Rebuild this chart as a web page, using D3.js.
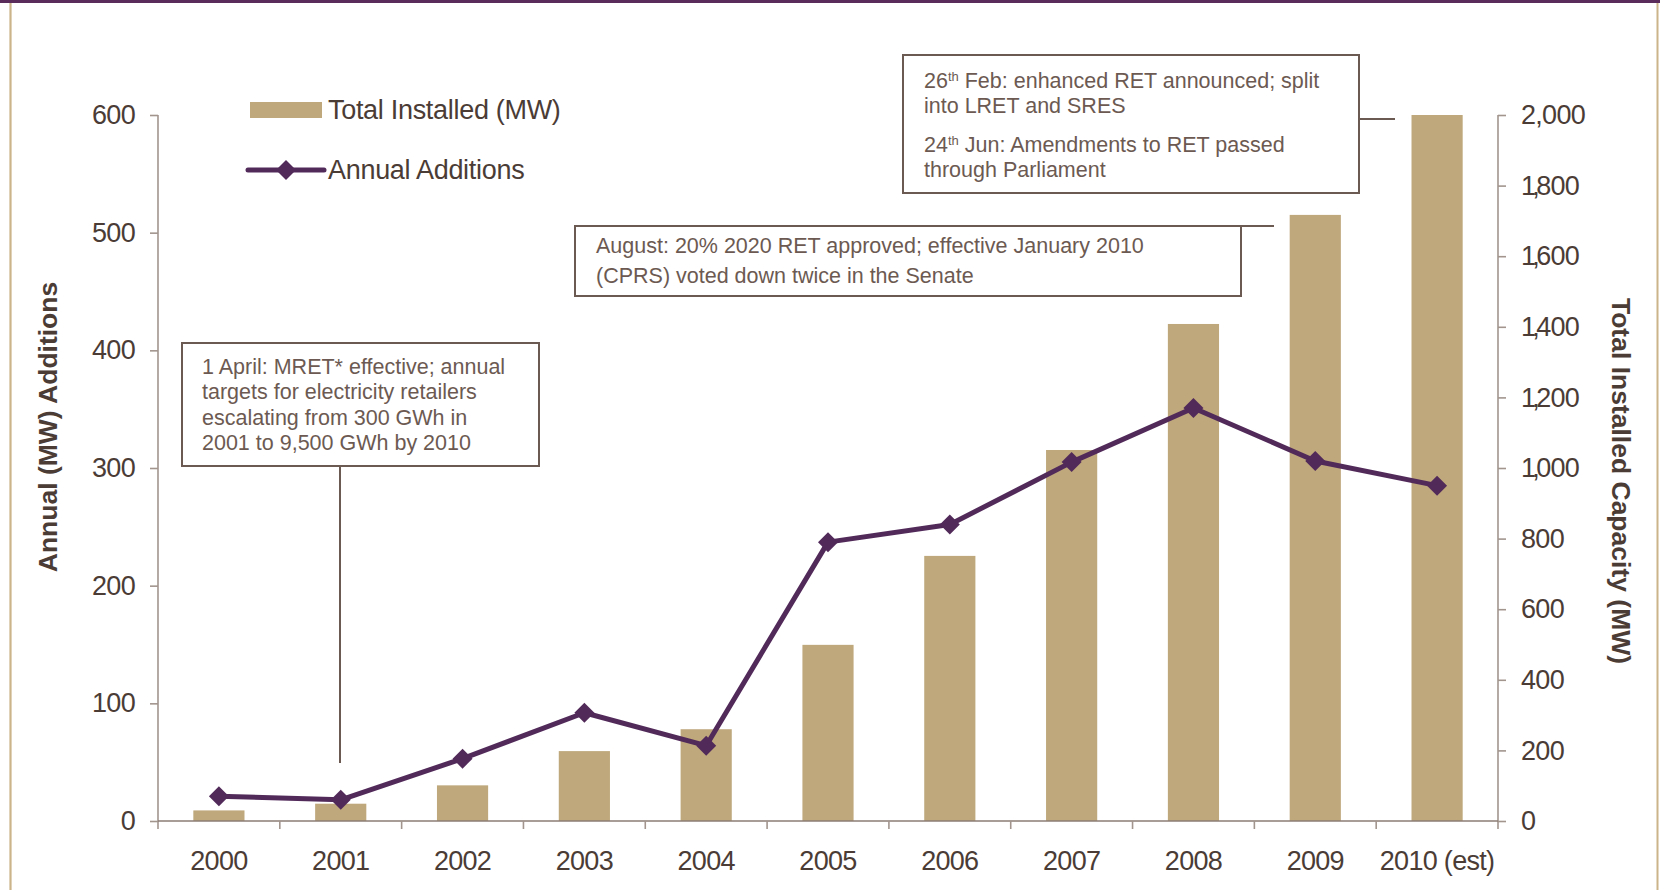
<!DOCTYPE html>
<html>
<head>
<meta charset="utf-8">
<script src="https://cdn.jsdelivr.net/npm/d3@7"></script>
<style>
  html, body { margin: 0; padding: 0; background: #ffffff; }
  svg { display: block; font-family: "Liberation Sans", Arial, Helvetica, sans-serif; }
</style>
</head>
<body>
<svg id="chart" width="1660" height="890"></svg>
<script>
// ---- data ----
const years = ["2000", "2001", "2002", "2003", "2004", "2005", "2006", "2007", "2008", "2009", "2010"];
const yearLabels = ["2000", "2001", "2002", "2003", "2004", "2005", "2006", "2007", "2008", "2009", "2010 (est)"];
const totalInstalled = [30, 49, 101, 198, 260, 499, 751, 1051, 1408, 1717, 2000];
const annualAdditions = [21, 18, 53, 92, 64, 237, 252, 305, 351, 306, 285];
const leftTicks = [0, 100, 200, 300, 400, 500, 600];
const rightTicks = [0, 200, 400, 600, 800, 1000, 1200, 1400, 1600, 1800, 2000];
const seriesNames = ["Total Installed (MW)", "Annual Additions"];
const leftTitle = "Annual (MW) Additions";
const rightTitle = "Total Installed Capacity (MW)";

const noteMret = ["1 April: MRET* effective; annual", "targets for electricity retailers",
                  "escalating from 300 GWh in", "2001 to 9,500 GWh by 2010"];
const noteAugust = ["August: 20% 2020 RET approved; effective January 2010",
                    "(CPRS) voted down twice in the Senate"];
const noteFeb = [["26", "th", " Feb: enhanced RET announced; split"], ["into LRET and SRES"],
                 ["24", "th", " Jun: Amendments to RET passed"], ["through Parliament"]];

// ---- styling ----
const BAR = "#bea87c";
const LINE = "#522a5a";
const INK = "#4b3c36";
const NOTE_INK = "#6c5a52";
const BOX = "#6b5a52";
const AXIS = "#a2958e";

const svg = d3.select("#chart");

// page frame
svg.append("rect").attr("x", 0).attr("y", 0).attr("width", 1660).attr("height", 3).attr("fill", "#5a2c5c");
svg.append("line").attr("x1", 10.5).attr("x2", 10.5).attr("y1", 3).attr("y2", 890)
  .attr("stroke", "#cbb48a").attr("stroke-width", 2.2);
svg.append("line").attr("x1", 1657.5).attr("x2", 1657.5).attr("y1", 3).attr("y2", 890)
  .attr("stroke", "#cbb48a").attr("stroke-width", 2);

// ---- scales ----
const plot = { left: 158, right: 1498, top: 115, bottom: 821 };
const x = d3.scaleBand().domain(years).range([plot.left, plot.right]).padding(0);
const yL = d3.scaleLinear().domain([0, 600]).range([plot.bottom, plot.top]);
const yR = d3.scaleLinear().domain([0, 2000]).range([plot.bottom, plot.top]);
const barW = x.bandwidth() * 0.42;
const cx = d => x(d) + x.bandwidth() / 2;

// ---- bars ----
svg.append("g").selectAll("rect").data(years).join("rect")
  .attr("x", d => cx(d) - barW / 2)
  .attr("width", barW)
  .attr("y", (d, i) => yR(totalInstalled[i]))
  .attr("height", (d, i) => yR(0) - yR(totalInstalled[i]))
  .attr("fill", BAR);

// ---- axes ----
const tickFont = g => g.selectAll("text")
  .attr("fill", INK).attr("font-size", 27).style("letter-spacing", "-0.7px");

const gL = svg.append("g").attr("transform", `translate(${plot.left},0)`)
  .call(d3.axisLeft(yL).tickValues(leftTicks).tickSize(8).tickSizeOuter(0).tickPadding(15));
gL.call(tickFont);
gL.selectAll("path, line").attr("stroke", AXIS).attr("stroke-width", 1.6);
gL.select(".domain").attr("d", `M0,${plot.top}V${plot.bottom + 8}`);

const gR = svg.append("g").attr("transform", `translate(${plot.right},0)`)
  .call(d3.axisRight(yR).tickValues(rightTicks).tickFormat(d3.format(",")).tickSize(8).tickSizeOuter(0).tickPadding(15));
gR.call(tickFont);
gR.selectAll("path, line").attr("stroke", AXIS).attr("stroke-width", 1.6);
gR.select(".domain").attr("d", `M0,${plot.top}V${plot.bottom + 8}`);
// a leading "1," is set tight (narrow figure one)
gR.selectAll(".tick text")
  .filter(function () { return this.textContent.startsWith("1,"); })
  .attr("dx", "0 -3 -3 0 0");

// category axis: baseline, boundary ticks, centred labels
const gB = svg.append("g");
gB.append("line").attr("x1", plot.left).attr("x2", plot.right)
  .attr("y1", plot.bottom).attr("y2", plot.bottom).attr("stroke", "#8c7c74").attr("stroke-width", 1.6);
const bounds = years.map(d => x(d)).concat([x.range()[1]]);
gB.selectAll("line.tick").data(bounds.slice(1, -1)).join("line").attr("class", "tick")
  .attr("x1", d => d).attr("x2", d => d).attr("y1", plot.bottom).attr("y2", plot.bottom + 8)
  .attr("stroke", AXIS).attr("stroke-width", 1.6);
gB.selectAll("text").data(years).join("text")
  .attr("x", d => cx(d)).attr("y", 870)
  .attr("text-anchor", "middle").attr("fill", INK).attr("font-size", 27).style("letter-spacing", "-0.7px")
  .text((d, i) => yearLabels[i]);

// axis titles
svg.append("text").attr("transform", "translate(57,427) rotate(-90)")
  .attr("text-anchor", "middle").attr("font-weight", "bold").attr("font-size", 26.5).attr("fill", INK)
  .text(leftTitle);
svg.append("text").attr("transform", "translate(1612,481) rotate(90)")
  .attr("text-anchor", "middle").attr("font-weight", "bold").attr("font-size", 26.5).attr("fill", INK)
  .text(rightTitle);

// ---- line series ----
const diamond = s => `M0,${-s}L${s},0L0,${s}L${-s},0Z`;
svg.append("path").datum(annualAdditions)
  .attr("d", d3.line().x((v, i) => cx(years[i])).y(v => yL(v)))
  .attr("fill", "none").attr("stroke", LINE).attr("stroke-width", 5).attr("stroke-linejoin", "round");
svg.append("g").selectAll("path").data(annualAdditions).join("path")
  .attr("transform", (v, i) => `translate(${cx(years[i])},${yL(v)})`)
  .attr("d", diamond(10)).attr("fill", LINE);

// ---- annotations ----
const noteFont = 21.5;
function box(x0, y0, x1, y1) {
  svg.append("rect").attr("x", x0).attr("y", y0).attr("width", x1 - x0).attr("height", y1 - y0)
    .attr("fill", "#ffffff").attr("stroke", BOX).attr("stroke-width", 2);
}
function connector(x1, y1, x2, y2) {
  svg.append("line").attr("x1", x1).attr("y1", y1).attr("x2", x2).attr("y2", y2)
    .attr("stroke", BOX).attr("stroke-width", 2);
}

// 2001 note
connector(340, 466, 340, 763);
box(182, 343, 539, 466);
svg.append("g").selectAll("text").data(noteMret).join("text")
  .attr("x", 202).attr("y", (d, i) => 374 + i * 25.4)
  .attr("fill", NOTE_INK).attr("font-size", noteFont).text(d => d);

// 2009 note
connector(1241, 226, 1274, 226);
box(575, 226, 1241, 296);
svg.append("g").selectAll("text").data(noteAugust).join("text")
  .attr("x", 596).attr("y", (d, i) => 253 + i * 29.5)
  .attr("fill", NOTE_INK).attr("font-size", noteFont).text(d => d);

// 2010 note
connector(1359, 119, 1395, 119);
box(903, 55, 1359, 193);
const febY = [88, 113, 151.5, 176.5];
const febText = svg.append("g").selectAll("text").data(noteFeb).join("text")
  .attr("x", 924).attr("y", (d, i) => febY[i])
  .attr("fill", NOTE_INK).attr("font-size", noteFont);
febText.each(function (parts) {
  const t = d3.select(this);
  if (parts.length === 1) { t.text(parts[0]); return; }
  t.append("tspan").text(parts[0]);
  t.append("tspan").attr("font-size", 13).attr("dy", -7).text(parts[1]);
  t.append("tspan").attr("dy", 7).text(parts[2]);
});

// ---- legend ----
const lg = svg.append("g");
lg.append("rect").attr("x", 250).attr("y", 102).attr("width", 72).attr("height", 16).attr("fill", BAR);
lg.append("text").attr("x", 328).attr("y", 119).attr("fill", INK).attr("font-size", 27)
  .style("letter-spacing", "-0.3px").text(seriesNames[0]);
lg.append("line").attr("x1", 248).attr("x2", 324).attr("y1", 170).attr("y2", 170)
  .attr("stroke", LINE).attr("stroke-width", 5).attr("stroke-linecap", "round");
lg.append("path").attr("transform", "translate(286,170)").attr("d", diamond(10)).attr("fill", LINE);
lg.append("text").attr("x", 328).attr("y", 179).attr("fill", INK).attr("font-size", 27)
  .style("letter-spacing", "-0.3px").text(seriesNames[1]);
</script>
</body>
</html>
